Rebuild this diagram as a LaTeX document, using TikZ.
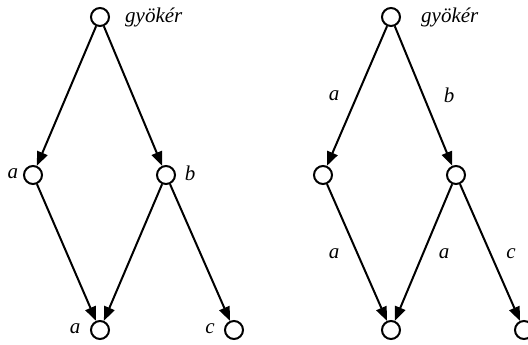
\documentclass[tikz,border=0pt]{standalone}
\usepackage{fontspec}
\setmainfont{Liberation Serif}
\usetikzlibrary{arrows.meta}
\begin{document}
\begin{tikzpicture}[x=1pt,y=-1pt,
  vtx/.style={circle,draw,line width=2pt,minimum size=18pt,inner sep=0pt},
  edge/.style={line width=2pt,-{Triangle[length=14pt,width=11pt]}},
  lbl/.style={font=\fontsize{21}{25}\selectfont\itshape,inner sep=0pt}]
\useasboundingbox (0,0) rectangle (528,345);
% left tree
\node[vtx] (r1) at (100,17) {};
\node[vtx] (a1) at (33,175) {};
\node[vtx] (b1) at (166,175) {};
\node[vtx] (d1) at (100,330) {};
\node[vtx] (c1) at (234,330) {};
\node[lbl,anchor=west] (g1) at (125,17) {gyökér};
\node[lbl] (la1) at (13,174) {a};
\node[lbl] (lb1) at (190,173) {b};
\node[lbl] (ld1) at (75,329) {a};
\node[lbl] (lc1) at (210,329) {c};
\draw[edge] (r1) -- (a1);
\draw[edge] (r1) -- (b1);
\draw[edge] (a1) -- (d1);
\draw[edge] (b1) -- (d1);
\draw[edge] (b1) -- (c1);
% right tree
\node[vtx] (r2) at (391,17) {};
\node[vtx] (a2) at (323,175) {};
\node[vtx] (b2) at (456,175) {};
\node[vtx] (d2) at (391,330) {};
\node[vtx] (c2) at (524,330) {};
\node[lbl,anchor=west] (g2) at (421,17) {gyökér};
\node[lbl] (e1) at (334,96) {a};
\node[lbl] (e2) at (449,95) {b};
\node[lbl] (e3) at (334,254) {a};
\node[lbl] (e4) at (444,254) {a};
\node[lbl] (e5) at (511,254) {c};
\draw[edge] (r2) -- (a2);
\draw[edge] (r2) -- (b2);
\draw[edge] (a2) -- (d2);
\draw[edge] (b2) -- (d2);
\draw[edge] (b2) -- (c2);
\end{tikzpicture}
\end{document}
